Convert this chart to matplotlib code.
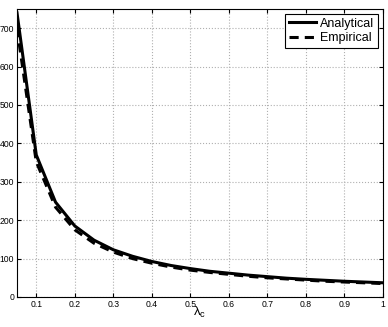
import matplotlib
matplotlib.use('Agg')
import matplotlib.pyplot as plt

plt.rcParams['font.family'] = ['Liberation Sans', 'DejaVu Sans']
plt.rcParams['mathtext.fontset'] = 'custom'
plt.rcParams['mathtext.rm'] = 'Liberation Sans'
plt.rcParams['mathtext.it'] = 'Liberation Sans'

lam = [0.05, 0.10, 0.15, 0.20, 0.25, 0.30, 0.35, 0.40, 0.45, 0.50,
       0.55, 0.60, 0.65, 0.70, 0.75, 0.80, 0.85, 0.90, 0.95, 1.00]
analytical = [740, 370, 247, 185, 148, 123, 106, 92.5, 82, 74,
              67, 62, 57, 53, 49, 46, 43.5, 41, 39, 37]
empirical = [700, 352, 234, 175, 140, 117, 100, 88, 78, 70,
             64, 59, 54, 50, 47, 44, 41, 39, 37, 35]

fig = plt.figure(figsize=(3.88, 3.27), dpi=100)
ax = fig.add_axes([17/388, 30/327, 366/388, 288/327])

ax.plot(lam, analytical, 'k-', lw=2.2, label='Analytical')
ax.plot(lam, empirical, 'k--', lw=2.2, dashes=(3, 2), label='Empirical')

ax.set_xlim(0.05, 1)
ax.set_ylim(0, 750)
ax.set_xticks([0.1, 0.2, 0.3, 0.4, 0.5, 0.6, 0.7, 0.8, 0.9, 1])
ax.set_xticklabels(['0.1', '0.2', '0.3', '0.4', '0.5', '0.6', '0.7', '0.8', '0.9', '1'])
ax.set_yticks([0, 100, 200, 300, 400, 500, 600, 700])
ax.tick_params(direction='in', labelsize=6.2, length=3, top=True, right=True, pad=2)
ax.grid(True, linestyle=':', color='#b0b0b0', lw=0.8)
for s in ax.spines.values():
    s.set_linewidth(0.8)

ax.set_xlabel(r'$\mathrm{\lambda_c}$', fontsize=9.5, labelpad=-2.5)

leg = ax.legend(loc='upper right', fontsize=9, fancybox=False, framealpha=1,
                edgecolor='black', handlelength=2.2, borderpad=0.3,
                labelspacing=0.2, handletextpad=0.3, borderaxespad=0.4)
leg.get_frame().set_linewidth(0.8)

fig.savefig('out.png', dpi=100)
